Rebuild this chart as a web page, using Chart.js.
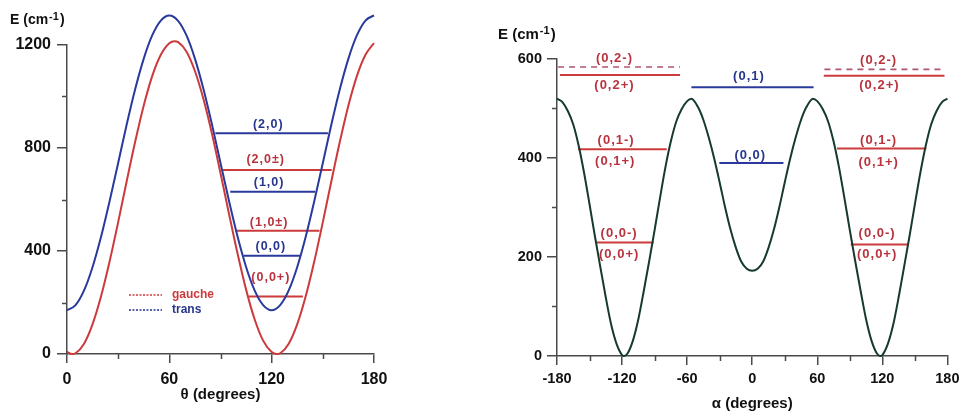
<!DOCTYPE html>
<html>
<head>
<meta charset="utf-8">
<script src="https://cdn.jsdelivr.net/npm/chart.js@4.4.1/dist/chart.umd.min.js"></script>
<style>
  html, body { margin: 0; padding: 0; background: #fff; }
  #wrap { position: relative; width: 965px; height: 411px; }
  #left { position: absolute; left: 0; top: 0; width: 480px; height: 411px; }
  #right { position: absolute; left: 480px; top: 0; width: 485px; height: 411px; }
</style>
</head>
<body>
<div id="wrap">
  <div id="left"><canvas id="thetaChart"></canvas></div>
  <div id="right"><canvas id="alphaChart"></canvas></div>
</div>
<script>
// ---- left panel: E vs theta ----
const thetaDeg = [0, 5, 10, 15, 20, 25, 30, 35, 40, 45, 50, 55, 60, 65, 70, 75, 80, 85, 90,
  95, 100, 105, 110, 115, 120, 125, 130, 135, 140, 145, 150, 155, 160, 165, 170, 175, 180];
const transE = [170, 190, 247, 338, 456, 594, 742, 891, 1029, 1147, 1238, 1295, 1315, 1295, 1238, 1147, 1029, 891, 742,
  594, 456, 338, 247, 190, 170, 190, 247, 338, 456, 594, 742, 891, 1029, 1147, 1238, 1295, 1315];

const gaucheDeg = [0, 3, 5, 10, 15, 20, 25, 30, 35, 40, 45, 50, 55, 60, 63, 65, 70, 75, 80, 85,
  90, 95, 100, 105, 110, 115, 120, 123, 125, 130, 135, 140, 145, 150, 155, 160, 165, 170, 175, 180];
const gaucheE = [8, 0, 3, 40, 116, 225, 360, 512, 671, 825, 965, 1080, 1162, 1207, 1215, 1212, 1175, 1099, 990, 855,
  702, 544, 390, 250, 135, 52, 8, 0, 3, 40, 116, 225, 360, 512, 671, 825, 965, 1080, 1162, 1207];

const thetaTicks = [0, 60, 120, 180];
const thetaMinorTicks = [30, 90, 150];
const thetaETicks = [0, 400, 800, 1200];
const thetaEMinorTicks = [200, 600, 1000];

const thetaLevelNames = ["(2,0)", "(2,0±)", "(1,0)", "(1,0±)", "(0,0)", "(0,0+)"];
const thetaLevelConf = ["trans", "gauche", "trans", "gauche", "trans", "gauche"];
const thetaLevelE = [857, 715, 630, 479, 382, 223];
const thetaLevelFrom = [87, 91.5, 95.7, 98.6, 103.5, 106.4];
const thetaLevelTo = [153, 155.2, 145.5, 148, 136.7, 138.3];
const thetaLabelDeg = [118, 116.5, 118.5, 118.5, 119.5, 119.5];
const thetaLabelE = [893, 756, 664, 510, 417, 295];

// ---- right panel: E vs alpha ----
const alphaDeg = [-180, -175, -170, -165, -160, -155, -150, -145, -140, -135, -130, -125, -120, -118,
  -115, -110, -105, -100, -95, -90, -85, -80, -75, -70, -65, -60, -56,
  -50, -45, -40, -35, -30, -25, -20, -15, -10, -5, 0,
  5, 10, 15, 20, 25, 30, 35, 40, 45, 50, 56,
  60, 65, 70, 75, 80, 85, 90, 95, 100, 105, 110, 115, 118,
  120, 125, 130, 135, 140, 145, 150, 155, 160, 165, 170, 175, 180];
const alphaE = [519, 512, 494, 467, 424, 369, 306, 241, 179, 118, 63, 24, 2, 0,
  5, 31, 74, 131, 191, 254, 319, 381, 433, 473, 498, 514, 519,
  502, 476, 440, 398, 350, 300, 255, 218, 190, 176, 172,
  176, 190, 218, 255, 300, 350, 398, 440, 476, 502, 519,
  514, 498, 473, 433, 381, 319, 254, 191, 131, 74, 31, 5, 0,
  2, 24, 63, 118, 179, 241, 306, 369, 424, 467, 494, 512, 519];

const alphaTicks = [-180, -120, -60, 0, 60, 120, 180];
const alphaMinorTicks = [-150, -90, -30, 30, 90, 150];
const alphaETicks = [0, 200, 400, 600];
const alphaEMinorTicks = [100, 300, 500];

const alphaLevelKind = ["minus", "plus", "red", "red", "blue", "blue", "minus", "plus", "red", "red"];
const alphaLevelE = [583, 566.5, 417, 229, 542, 389, 578, 565, 418.5, 225];
const alphaLevelFrom = [-179, -177.3, -160.6, -143.9, -56.1, -30.3, 66.6, 66, 78.2, 90.9];
const alphaLevelTo = [-66.6, -66.6, -78.8, -90.9, 56.6, 28.8, 177.3, 177.3, 160.6, 143.4];

const alphaLabelNames = ["(0,2-)", "(0,2+)", "(0,1-)", "(0,1+)", "(0,0-)", "(0,0+)", "(0,1)", "(0,0)",
  "(0,2-)", "(0,2+)", "(0,1-)", "(0,1+)", "(0,0-)", "(0,0+)"];
const alphaLabelColor = ["red", "red", "red", "red", "red", "red", "blue", "blue",
  "red", "red", "red", "red", "red", "red"];
const alphaLabelDeg = [-127, -127, -125.5, -126.3, -122.7, -122.7, -3, -1.8, 116.6, 117.3, 116.6, 116.6, 115.2, 115.2];
const alphaLabelE = [600, 546, 435, 392, 247, 204, 563, 405, 597, 546, 435, 391, 247, 204];

const FONT = '"Liberation Sans", Arial, sans-serif';
const BLUE = "#2a3a9c";
const RED = "#cc3a3c";
const BLUE_TEXT = "#26358e";
const RED_TEXT = "#b8333e";
const DARK = "#163a2c";
const DASHED = "#b0546f";
const AXIS = "#4a4a4a";
const TEXT = "#111";

function font(size, extra) {
  return { family: FONT, size, weight: "bold", ...extra };
}

function curve(xs, ys, color) {
  return {
    data: xs.map((x, i) => ({ x, y: ys[i] })),
    borderColor: color,
    borderWidth: 2,
    pointRadius: 0,
    cubicInterpolationMode: "monotone",
    fill: false,
    clip: false,
  };
}

function level(from, to, e, color, dash) {
  return {
    data: [{ x: from, y: e }, { x: to, y: e }],
    borderColor: color,
    borderWidth: dash ? 1.6 : 2,
    borderDash: dash || [],
    pointRadius: 0,
    tension: 0,
    fill: false,
    clip: false,
  };
}

function axisOptions(min, max, ticks, fontSize, tickLength, padding, fit) {
  return {
    type: "linear",
    min,
    max,
    afterBuildTicks(scale) {
      scale.ticks = ticks.map((value) => ({ value }));
    },
    afterFit: fit,
    ticks: {
      font: font(fontSize),
      color: TEXT,
      padding,
      maxRotation: 0,
      autoSkip: false,
      callback: (value) => String(value),
    },
    grid: {
      drawOnChartArea: false,
      drawTicks: true,
      tickLength,
      color: AXIS,
      lineWidth: 1.5,
    },
    border: { display: true, color: AXIS, width: 1.5 },
  };
}

function drawUnit(ctx, x, y, size) {
  ctx.fillStyle = TEXT;
  ctx.textAlign = "left";
  ctx.textBaseline = "middle";
  ctx.font = `bold ${size}px ${FONT}`;
  ctx.fillText("E (cm", x, y);
  let w = ctx.measureText("E (cm").width + 1;
  ctx.font = `bold ${Math.round(size * 0.75)}px ${FONT}`;
  ctx.fillText("-1", x + w, y - size * 0.25);
  w += ctx.measureText("-1").width + 1;
  ctx.font = `bold ${size}px ${FONT}`;
  ctx.fillText(")", x + w, y);
}

const annotate = {
  id: "annotate",
  afterDraw(chart, args, opts) {
    const { ctx } = chart;
    const xs = chart.scales.x;
    const ys = chart.scales.y;
    ctx.save();

    // minor ticks
    ctx.strokeStyle = AXIS;
    ctx.lineWidth = 1.5;
    ctx.beginPath();
    for (const v of opts.minorX) {
      const px = Math.round(xs.getPixelForValue(v)) + 0.5;
      ctx.moveTo(px, ys.bottom);
      ctx.lineTo(px, ys.bottom + 5);
    }
    for (const v of opts.minorY) {
      const py = Math.round(ys.getPixelForValue(v)) + 0.5;
      ctx.moveTo(xs.left, py);
      ctx.lineTo(xs.left - 5, py);
    }
    ctx.stroke();

    // level labels
    ctx.font = `bold ${opts.labelSize}px ${FONT}`;
    ctx.letterSpacing = "1px";
    ctx.textAlign = "center";
    ctx.textBaseline = "middle";
    opts.labels.forEach((lab) => {
      ctx.fillStyle = lab.color;
      ctx.fillText(lab.text, xs.getPixelForValue(lab.x), ys.getPixelForValue(lab.y));
    });
    ctx.letterSpacing = "0px";

    drawUnit(ctx, opts.unit.x, opts.unit.y, opts.unit.size);

    // legend (left panel only)
    if (opts.legend) {
      ctx.font = `bold 12px ${FONT}`;
      ctx.textAlign = "left";
      ctx.lineWidth = 1.5;
      ctx.setLineDash([2, 1.5]);
      opts.legend.forEach((item) => {
        ctx.strokeStyle = item.color;
        ctx.beginPath();
        ctx.moveTo(item.x, item.y);
        ctx.lineTo(item.x + 33, item.y);
        ctx.stroke();
        ctx.fillStyle = item.color;
        ctx.fillText(item.text, item.x + 43, item.y);
      });
      ctx.setLineDash([]);
    }
    ctx.restore();
  },
};

const thetaDatasets = [curve(gaucheDeg, gaucheE, RED), curve(thetaDeg, transE, BLUE)];
thetaLevelE.forEach((e, i) => {
  const color = thetaLevelConf[i] === "trans" ? BLUE : RED;
  thetaDatasets.push(level(thetaLevelFrom[i], thetaLevelTo[i], e, color));
});

new Chart(document.getElementById("thetaChart"), {
  type: "line",
  data: { datasets: thetaDatasets },
  plugins: [annotate],
  options: {
    responsive: true,
    maintainAspectRatio: false,
    animation: false,
    events: [],
    layout: { padding: { left: 0, right: 106, top: 45, bottom: 0 } },
    plugins: {
      legend: { display: false },
      tooltip: { enabled: false },
      annotate: {
        minorX: thetaMinorTicks,
        minorY: thetaEMinorTicks,
        labelSize: 12.5,
        labels: thetaLevelNames.map((text, i) => ({
          text,
          x: thetaLabelDeg[i],
          y: thetaLabelE[i],
          color: thetaLevelConf[i] === "trans" ? BLUE_TEXT : RED_TEXT,
        })),
        unit: { x: 10, y: 20, size: 14 },
        legend: [
          { text: "gauche", color: RED, x: 129, y: 295 },
          { text: "trans", color: BLUE_TEXT, x: 129, y: 310 },
        ],
      },
    },
    scales: {
      x: {
        ...axisOptions(0, 180, thetaTicks, 16, 9, 6.5, (s) => { s.height = 57; }),
        title: {
          display: true,
          text: "θ (degrees)",
          color: TEXT,
          font: font(15, { lineHeight: 1 }),
          padding: { top: 0, bottom: 8.5 },
        },
      },
      y: axisOptions(0, 1200, thetaETicks, 16, 10, 6, (s) => { s.width = 67; }),
    },
  },
});

const alphaDatasets = [curve(alphaDeg, alphaE, DARK)];
alphaLevelE.forEach((e, i) => {
  const kind = alphaLevelKind[i];
  if (kind === "minus") {
    alphaDatasets.push(level(alphaLevelFrom[i], alphaLevelTo[i], e, DASHED, [6, 5]));
  } else {
    alphaDatasets.push(level(alphaLevelFrom[i], alphaLevelTo[i], e, kind === "blue" ? BLUE : RED));
  }
});

new Chart(document.getElementById("alphaChart"), {
  type: "line",
  data: { datasets: alphaDatasets },
  plugins: [annotate],
  options: {
    responsive: true,
    maintainAspectRatio: false,
    animation: false,
    events: [],
    layout: { padding: { left: 0, right: 12, top: 58.5, bottom: 0 } },
    plugins: {
      legend: { display: false },
      tooltip: { enabled: false },
      annotate: {
        minorX: alphaMinorTicks,
        minorY: alphaEMinorTicks,
        labelSize: 13,
        labels: alphaLabelNames.map((text, i) => ({
          text,
          x: alphaLabelDeg[i],
          y: alphaLabelE[i],
          color: alphaLabelColor[i] === "blue" ? BLUE_TEXT : RED_TEXT,
        })),
        unit: { x: 18, y: 35, size: 15 },
      },
    },
    scales: {
      x: {
        ...axisOptions(-180, 180, alphaTicks, 14.5, 9, 5.5, (s) => { s.height = 55; }),
        title: {
          display: true,
          text: "α (degrees)",
          color: TEXT,
          font: font(15, { lineHeight: 1 }),
          padding: { top: 0, bottom: 0 },
        },
      },
      y: axisOptions(0, 600, alphaETicks, 14.5, 10, 5, (s) => { s.width = 77; }),
    },
  },
});
</script>
</body>
</html>
